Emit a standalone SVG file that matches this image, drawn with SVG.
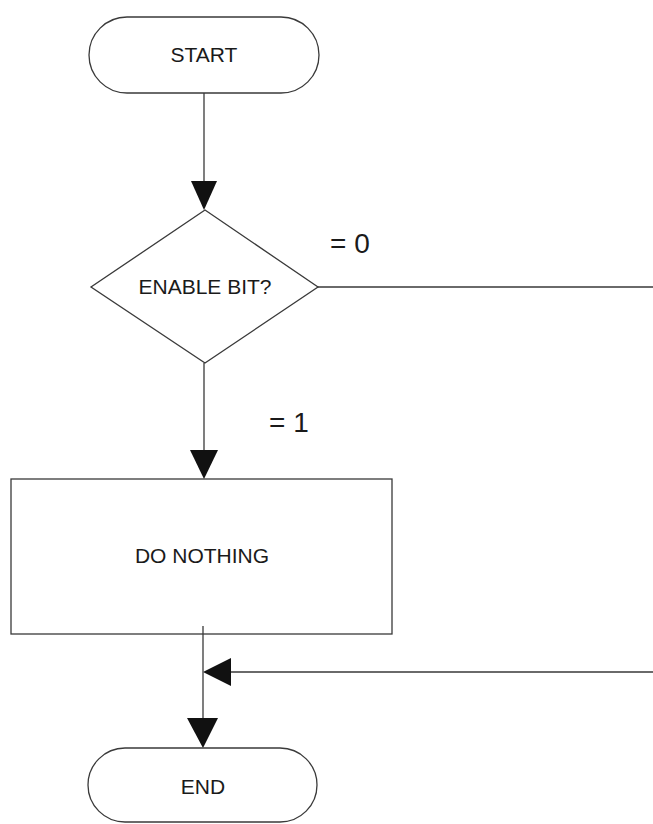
<svg xmlns="http://www.w3.org/2000/svg" width="653" height="824" viewBox="0 0 653 824">
<style>
.shape{fill:#ffffff;stroke:#3a3a3a;stroke-width:1.3}
.line{fill:none;stroke:#3a3a3a;stroke-width:1.3}
.head{fill:#111111;stroke:none}
.label{font-family:"Liberation Sans",Arial,sans-serif;font-size:21px;fill:#1a1a1a;text-anchor:middle}
.cond{font-family:"Liberation Sans",Arial,sans-serif;font-size:28px;fill:#1a1a1a}
</style>
<rect width="653" height="824" fill="#ffffff"/>
<g id="connectors">
<line class="line" x1="204" y1="93" x2="204" y2="183"/>
<polygon class="head" points="191,181 217,181 204,210"/>
<line class="line" x1="204" y1="363" x2="204" y2="452"/>
<polygon class="head" points="190,450 218,450 204,479"/>
<polyline class="line" points="318,287 660,287 660,672 229,672"/>
<polygon class="head" points="203,672 231,658 231,686"/>
<line class="line" x1="203" y1="626" x2="203" y2="720"/>
<polygon class="head" points="187,718 218,718 203,748"/>
<text class="cond" x="330" y="253">= 0</text>
<text class="cond" x="269" y="432">= 1</text>
</g>
<g id="start">
<rect class="shape" x="89" y="17" width="230" height="76" rx="38" ry="38"/>
<text class="label" x="204" y="62">START</text>
</g>
<g id="decision">
<polygon class="shape" points="205,210 318,287 205,363 91,287"/>
<text class="label" x="205" y="294">ENABLE BIT?</text>
</g>
<g id="process">
<rect class="shape" x="11" y="479" width="381" height="155"/>
<text class="label" x="202" y="563">DO NOTHING</text>
<line class="line" x1="203" y1="626" x2="203" y2="634"/>
</g>
<g id="end">
<rect class="shape" x="88" y="748" width="229" height="74" rx="37" ry="37"/>
<text class="label" x="203" y="794">END</text>
</g>
</svg>
